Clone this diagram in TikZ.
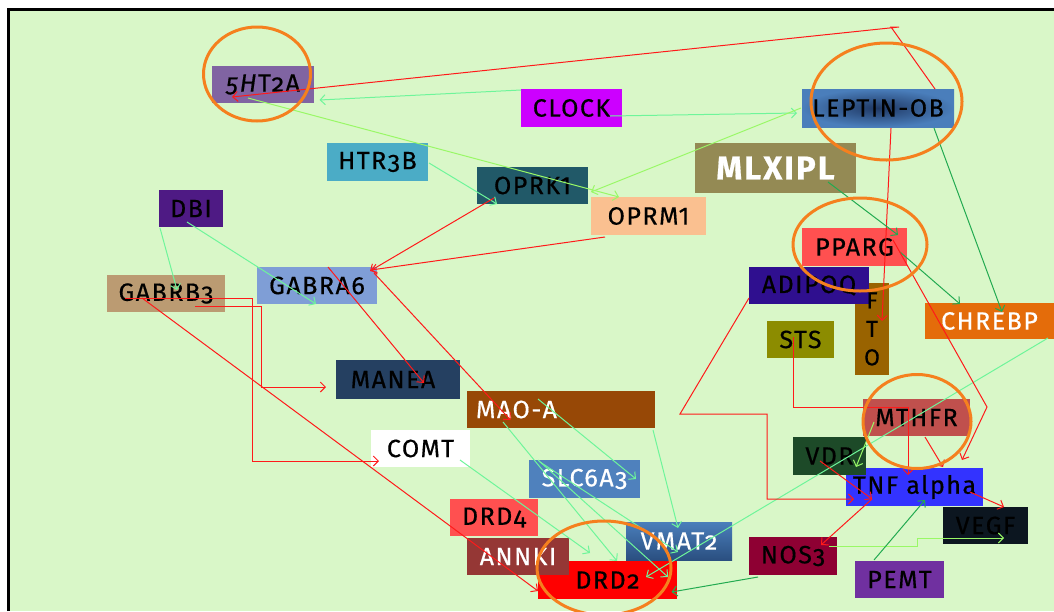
\documentclass[tikz,border=0pt]{standalone}
\usepackage{fontspec}
\setmainfont{Fira Sans}[Numbers=OldStyle, LetterSpace=6, FakeBold=0.5]
\usetikzlibrary{arrows.meta}
\definecolor{bggreen}{HTML}{D9F7C8}
\definecolor{c5ht}{HTML}{8064A2}
\definecolor{cclock}{HTML}{CC00FF}
\definecolor{clepin}{HTML}{1F3864}
\definecolor{clepout}{HTML}{4A7EBB}
\definecolor{chtr}{HTML}{4BACC6}
\definecolor{cmlx}{HTML}{948A54}
\definecolor{coprk}{HTML}{215968}
\definecolor{coprm}{HTML}{FAC090}
\definecolor{cdbi}{HTML}{4E1A84}
\definecolor{cppa}{HTML}{FF5050}
\definecolor{cgbb}{HTML}{BB9B72}
\definecolor{cgba}{HTML}{7F9ED6}
\definecolor{cadi}{HTML}{2F0F8F}
\definecolor{cfto}{HTML}{996300}
\definecolor{cchr}{HTML}{E46C0A}
\definecolor{csts}{HTML}{8C8C00}
\definecolor{cman}{HTML}{254061}
\definecolor{cmao}{HTML}{974806}
\definecolor{cmth}{HTML}{C0504D}
\definecolor{cvdr}{HTML}{1D4A28}
\definecolor{cslc}{HTML}{4F81BD}
\definecolor{ctnf}{HTML}{3333FF}
\definecolor{cdrd4}{HTML}{FF5050}
\definecolor{cvegf}{HTML}{0C1620}
\definecolor{cvmtop}{HTML}{4A7EBB}
\definecolor{cvmbot}{HTML}{2A4F80}
\definecolor{cnos}{HTML}{8E0033}
\definecolor{cann}{HTML}{953735}
\definecolor{cdrd2}{HTML}{FF0000}
\definecolor{cpemt}{HTML}{7030A0}
\definecolor{lred}{HTML}{FF1A1A}
\definecolor{lmint}{HTML}{6EF59A}
\definecolor{lyg}{HTML}{99F866}
\definecolor{lgreen}{HTML}{22AA50}
\definecolor{orng}{HTML}{F5801E}
\newcommand{\lnum}[1]{{\addfontfeature{Numbers=Lining}#1}}
\tikzset{
  box/.style={rectangle, inner sep=0pt, outer sep=0pt, text=black,
    font=\fontsize{25}{29}\selectfont},
  wt/.style={text=white},
  arrtip/.style={-{Straight Barb[length=5pt,width=10pt]}},
  rl/.style={draw=lred, line width=1pt, arrtip},
  ml/.style={draw=lmint, line width=1pt, arrtip},
  yl/.style={draw=lyg, line width=1pt, arrtip},
  gl/.style={draw=lgreen, line width=1pt, arrtip},
  ring/.style={draw=orng, line width=3pt}
}
\begin{document}
\begin{tikzpicture}[x=1pt,y=-1pt]
\useasboundingbox (0,0) rectangle (1054,611);
\fill[white] (0,0) rectangle (1054,611);
\fill[bggreen] (10,11) rectangle (1054,611);
\draw[black, line width=3pt] (8.5,611) -- (8.5,9.5) -- (1054,9.5);

% boxes
\node[box, fill=c5ht, minimum width=102pt, minimum height=37pt] (n5ht) at (263,84.5) {\textit{5H}T2A};
\node[box, fill=cclock, minimum width=101pt, minimum height=38pt] (nclock) at (571.5,108) {CLOCK};
\node[box, inner color=clepin, outer color=clepout, minimum width=152pt, minimum height=38pt] (nlep) at (878,108) {LEPTIN-OB};
\node[box, fill=chtr, minimum width=101pt, minimum height=38pt] (nhtr) at (377.5,162) {HTR3B};
\node[box, wt, fill=cmlx, minimum width=161pt, minimum height=50pt, font=\fontsize{33}{38}\selectfont\bfseries] (nmlx) at (775.5,168) {MLXIPL};
\node[box, fill=coprk, minimum width=111pt, minimum height=37pt] (noprk) at (532.5,185.5) {OPRK\lnum{1}};
\node[box, fill=coprm, minimum width=115pt, minimum height=38pt] (noprm) at (648.5,216) {OPRM\lnum{1}};
\node[box, fill=cdbi, minimum width=64pt, minimum height=37pt] (ndbi) at (191,208.5) {DBI};
\node[box, fill=cppa, minimum width=105pt, minimum height=38pt] (nppa) at (854.5,247) {PPARG};
\node[box, fill=cgbb, minimum width=118pt, minimum height=37pt] (ngbb) at (166,293.5) {GABRB3};
\node[box, fill=cgba, minimum width=120pt, minimum height=37pt] (ngba) at (317,285.5) {GABRA6};
\fill[cfto] (855,283) rectangle (889,375);
\node[box, fill=cadi, minimum width=120pt, minimum height=37pt] (nadi) at (809,285.5) {ADIPOQ};
\node[box, minimum width=34pt, minimum height=92pt, align=center, font=\fontsize{23}{28.5}\selectfont] (nfto) at (872,329) {F\\T\\O};
\node[box, wt, fill=cchr, minimum width=129pt, minimum height=36pt] (nchr) at (989.5,321) {CHREBP};
\node[box, fill=csts, minimum width=67pt, minimum height=37pt] (nsts) at (800.5,339.5) {STS};
\node[box, fill=cman, minimum width=124pt, minimum height=39pt] (nman) at (398,379.5) {\hspace*{-10pt}MANEA};
\node[box, wt, fill=cmao, minimum width=188pt, text width=170pt, inner xsep=9pt, minimum height=37pt, align=left] (nmao) at (561,409.5) {MAO-A};
\node[box, fill=cmth, minimum width=107pt, minimum height=37pt] (nmth) at (916.5,417.5) {MTHFR};
\node[box, fill=white, minimum width=99pt, minimum height=37pt] (ncomt) at (420.5,448.5) {COMT};
\node[box, fill=ctnf, minimum width=137pt, minimum height=38pt] (ntnf) at (914.5,487) {TNF alpha};
\node[box, fill=cvdr, minimum width=73pt, minimum height=38pt] (nvdr) at (829.5,456) {VDR};
\node[box, wt, fill=cslc, minimum width=111pt, minimum height=38pt] (nslc) at (584.5,479) {SLC6A3};
\node[box, fill=cdrd4, minimum width=88pt, minimum height=37pt] (ndrd4) at (494,517.5) {DRD4};
\node[box, fill=cvegf, minimum width=85pt, minimum height=37pt] (nvegf) at (985.5,525.5) {VEGF};
\node[box, wt, top color=cvmtop, bottom color=cvmbot, minimum width=106pt, minimum height=38pt] (nvmat) at (679,541) {VMAT2};
\node[box, fill=cnos, minimum width=88pt, minimum height=38pt] (nnos) at (793,556) {NOS3};
\node[box, fill=cdrd2, minimum width=139pt, minimum height=38pt] (ndrd2) at (607.5,580) {DRD2};
\node[box, wt, fill=cann, minimum width=102pt, minimum height=37pt] (nann) at (518,556.5) {ANNKI};
\node[box, fill=cpemt, minimum width=89pt, minimum height=37pt] (npemt) at (899.5,579.5) {PEMT};

% connectors
\coordinate (ctopa) at (891,27);
\coordinate (ctopb) at (899,27);
\draw[rl] ([shift={(57,-19)}]nlep.center) -- (ctopa) -- (ctopb) -- ([shift={(-31,12.5)}]n5ht.center);
\draw[ml] ([shift={(-50.5,-18)}]nclock.center) -- ([shift={(56.5,15.5)}]n5ht.center);
\draw[ml] ([shift={(38.5,8)}]nclock.center) -- ([shift={(-81,5)}]nlep.center);
\draw[yl] ([shift={(-77,0)}]nlep.center) -- ([shift={(58.5,6.5)}]noprk.center);
\draw[yl] ([shift={(-15,13.5)}]n5ht.center) -- ([shift={(-29.5,-19)}]noprm.center);
\draw[ml] ([shift={(51.5,1)}]nhtr.center) -- ([shift={(-35.5,18.5)}]noprk.center);
\draw[rl] ([shift={(-38.5,12.5)}]noprk.center) -- ([shift={(53,-14.5)}]ngba.center);
\draw[rl] ([shift={(-43.5,21)}]noprm.center) -- ([shift={(54,-15.5)}]ngba.center);
\draw[rl] ([shift={(57,-12.5)}]ngba.center) -- ([shift={(-50.5,10.5)}]nmao.center);
\draw[rl] ([shift={(11,-18.5)}]ngba.center) -- ([shift={(26,3.5)}]nman.center);
\draw[ml] ([shift={(-31,19.5)}]ndbi.center) -- ([shift={(11,-3.5)}]ngbb.center);
\draw[ml] ([shift={(-4,13.5)}]ndbi.center) -- ([shift={(-1,18.5)}]ngba.center);
\draw[rl] ([shift={(29,12.5)}]ngbb.center) -- ++(66,0) |- ([shift={(-72,7.5)}]nman.center);
\draw[rl] ([shift={(-41,4.5)}]ngbb.center) -- ++(127,0) |- ([shift={(-41.5,12.5)}]ncomt.center);
\draw[rl] ([shift={(-24,4.5)}]ngbb.center) -- ([shift={(-69.5,11)}]ndrd2.center);
\draw[ml] ([shift={(-23,-10.5)}]nmao.center) -- ([shift={(51.5,0)}]nslc.center);
\draw[ml] ([shift={(-58,12.5)}]nmao.center) -- ([shift={(9.5,-19)}]ndrd2.center);
\draw[ml] ([shift={(92,20.5)}]nmao.center) -- ([shift={(-1,-13)}]nvmat.center);
\draw[ml] ([shift={(39.5,11.5)}]ncomt.center) -- ([shift={(-17.5,-27)}]ndrd2.center);
\draw[ml] ([shift={(-46.5,-19)}]nslc.center) -- ([shift={(60.5,-3)}]ndrd2.center);
\draw[ml] ([shift={(-44.5,-17)}]nslc.center) -- ([shift={(-1,11)}]nvmat.center);
\draw[ml] ([shift={(58.5,17)}]nchr.center) -- ([shift={(38.5,-3)}]ndrd2.center);
\draw[gl] ([shift={(-35,21)}]nnos.center) -- ([shift={(64,12)}]ndrd2.center);
\coordinate (cadipo) at (680,414);
\draw[rl] ([shift={(-60,12.5)}]nadi.center) -- (cadipo) -- ++(87,0) |- ([shift={(-60.5,12)}]ntnf.center);
\draw[rl] ([shift={(-7.5,-2.5)}]nsts.center) -- ++(0,70) -| ([shift={(-6.5,-12)}]ntnf.center);
\draw[rl] ([shift={(13,20)}]nlep.center) -- ([shift={(10,-8)}]nfto.center);
\draw[gl] ([shift={(52.5,14)}]nmlx.center) -- ([shift={(43.5,-12)}]nppa.center);
\draw[gl] ([shift={(45.5,5)}]nppa.center) -- ([shift={(-29.5,-17)}]nchr.center);
\draw[gl] ([shift={(56,20)}]nlep.center) -- ([shift={(12.5,-9)}]nchr.center);
\coordinate (cppag) at (987,407);
\draw[rl] ([shift={(38.5,-7)}]nppa.center) -- (cppag) -- ([shift={(47.5,-27)}]ntnf.center);
\draw[rl] ([shift={(8.5,19.5)}]nmth.center) -- ([shift={(28.5,-20)}]ntnf.center);
\draw[yl] ([shift={(-42.5,4.5)}]nmth.center) -- ([shift={(26.5,11)}]nvdr.center);
\draw[rl] ([shift={(-9.5,5)}]nvdr.center) -- ([shift={(-42.5,12)}]ntnf.center);
\draw[rl] ([shift={(-42.5,12)}]ntnf.center) -- ([shift={(28,-11)}]nnos.center);
\draw[rl] ([shift={(55.5,5)}]ntnf.center) -- ([shift={(18.5,-18.5)}]nvegf.center);
\draw[yl] ([shift={(36,-10)}]nnos.center) -- ++(88,0) |- ([shift={(18.5,12.5)}]nvegf.center);
\draw[gl] ([shift={(-25.5,-19.5)}]npemt.center) -- ([shift={(10.5,13)}]ntnf.center);

% highlight rings
\draw[ring] (257,74) ellipse [x radius=53.5, y radius=47];
\draw[ring] (886.5,101.5) ellipse [x radius=75.5, y radius=58.5];
\draw[ring] (860,244.5) ellipse [x radius=67, y radius=46.5];
\draw[ring] (917,421.5) ellipse [x radius=54, y radius=47];
\draw[ring] (604,568) ellipse [x radius=67, y radius=47];
\end{tikzpicture}
\end{document}
